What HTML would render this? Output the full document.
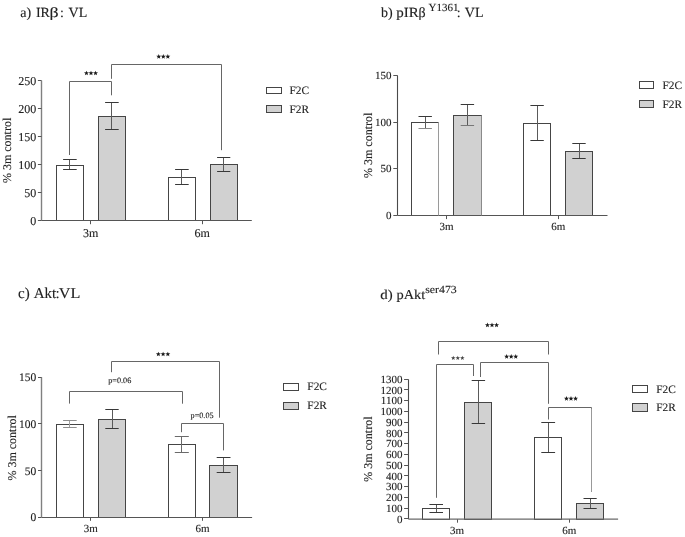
<!DOCTYPE html>
<html><head><meta charset="utf-8"><style>
html,body{margin:0;padding:0;background:#fff;width:685px;height:537px;overflow:hidden}
svg{display:block;will-change:transform} text{text-rendering:geometricPrecision;font-family:"Liberation Serif",serif}
</style></head><body>
<svg width="685" height="537" viewBox="0 0 685 537">
<rect width="685" height="537" fill="#fff"/>
<text x="20.31" y="16.8" font-size="14" text-anchor="start" fill="#222" stroke="#222" stroke-width="0.12" >a)</text>
<text x="35.89" y="16.8" font-size="14" text-anchor="start" fill="#222" stroke="#222" stroke-width="0.12" >IR</text>
<text x="0" y="0" font-size="14" text-anchor="start" fill="#222" stroke="#222" stroke-width="0.12" transform="translate(49.55,16.8) scale(1.28,1)">β</text>
<text x="59.89" y="16.8" font-size="14" text-anchor="start" fill="#222" stroke="#222" stroke-width="0.12" >:</text>
<text x="68.54" y="16.8" font-size="14" text-anchor="start" fill="#222" stroke="#222" stroke-width="0.12" >VL</text>
<line x1="41.5" y1="80.5" x2="41.5" y2="220.6" stroke="#808080" stroke-width="1.4"/>
<line x1="37.9" y1="220.5" x2="41.5" y2="220.5" stroke="#555" stroke-width="1.0"/>
<text x="36.2" y="224.79999999999998" font-size="12" text-anchor="end" fill="#222" stroke="#222" stroke-width="0.12" >0</text>
<line x1="37.9" y1="192.5" x2="41.5" y2="192.5" stroke="#555" stroke-width="1.0"/>
<text x="36.2" y="196.79999999999998" font-size="12" text-anchor="end" fill="#222" stroke="#222" stroke-width="0.12" >50</text>
<line x1="37.9" y1="164.5" x2="41.5" y2="164.5" stroke="#555" stroke-width="1.0"/>
<text x="36.2" y="168.79999999999998" font-size="12" text-anchor="end" fill="#222" stroke="#222" stroke-width="0.12" >100</text>
<line x1="37.9" y1="136.5" x2="41.5" y2="136.5" stroke="#555" stroke-width="1.0"/>
<text x="36.2" y="140.79999999999998" font-size="12" text-anchor="end" fill="#222" stroke="#222" stroke-width="0.12" >150</text>
<line x1="37.9" y1="108.5" x2="41.5" y2="108.5" stroke="#555" stroke-width="1.0"/>
<text x="36.2" y="112.8" font-size="12" text-anchor="end" fill="#222" stroke="#222" stroke-width="0.12" >200</text>
<line x1="37.9" y1="80.5" x2="41.5" y2="80.5" stroke="#555" stroke-width="1.0"/>
<text x="36.2" y="84.8" font-size="12" text-anchor="end" fill="#222" stroke="#222" stroke-width="0.12" >250</text>
<line x1="90.5" y1="220.6" x2="90.5" y2="224.2" stroke="#555" stroke-width="1.0"/>
<text x="90.7" y="236.5" font-size="12" text-anchor="middle" fill="#222" stroke="#222" stroke-width="0.12" >3m</text>
<line x1="202.5" y1="220.6" x2="202.5" y2="224.2" stroke="#555" stroke-width="1.0"/>
<text x="202.2" y="236.5" font-size="12" text-anchor="middle" fill="#222" stroke="#222" stroke-width="0.12" >6m</text>
<rect x="56.5" y="165.5" width="27.0" height="55.0" fill="#fff" stroke="#454545" stroke-width="1.0"/>
<rect x="98.5" y="116.5" width="27.0" height="104.0" fill="#d1d1d1" stroke="#454545" stroke-width="1.0"/>
<rect x="168.5" y="177.5" width="27.0" height="43.0" fill="#fff" stroke="#454545" stroke-width="1.0"/>
<rect x="210.5" y="164.5" width="27.0" height="56.0" fill="#d1d1d1" stroke="#454545" stroke-width="1.0"/>
<line x1="69.5" y1="159.5" x2="69.5" y2="169.4" stroke="#5a5a5a" stroke-width="1.0"/>
<line x1="63.10000000000001" y1="159.5" x2="76.7" y2="159.5" stroke="#383838" stroke-width="1.0"/>
<line x1="63.10000000000001" y1="169.5" x2="76.7" y2="169.5" stroke="#383838" stroke-width="1.0"/>
<line x1="111.5" y1="102.1" x2="111.5" y2="129.6" stroke="#5a5a5a" stroke-width="1.0"/>
<line x1="105.10000000000001" y1="102.5" x2="118.7" y2="102.5" stroke="#383838" stroke-width="1.0"/>
<line x1="105.10000000000001" y1="129.5" x2="118.7" y2="129.5" stroke="#383838" stroke-width="1.0"/>
<line x1="181.5" y1="169.5" x2="181.5" y2="184.3" stroke="#5a5a5a" stroke-width="1.0"/>
<line x1="175.1" y1="169.5" x2="188.70000000000002" y2="169.5" stroke="#383838" stroke-width="1.0"/>
<line x1="175.1" y1="184.5" x2="188.70000000000002" y2="184.5" stroke="#383838" stroke-width="1.0"/>
<line x1="223.5" y1="157.4" x2="223.5" y2="171.2" stroke="#5a5a5a" stroke-width="1.0"/>
<line x1="217.1" y1="157.5" x2="230.29999999999998" y2="157.5" stroke="#383838" stroke-width="1.0"/>
<line x1="217.1" y1="171.5" x2="230.29999999999998" y2="171.5" stroke="#383838" stroke-width="1.0"/>
<line x1="41.5" y1="220.5" x2="251.8" y2="220.5" stroke="#555" stroke-width="1.0"/>
<text x="0" y="0" font-size="12" text-anchor="middle" fill="#222" stroke="#222" stroke-width="0.12" transform="translate(11.4,150.4) rotate(-90)">% 3m control</text>
<rect x="266.5" y="87.5" width="15.0" height="6.0" fill="#fff" stroke="#454545" stroke-width="1.0"/>
<rect x="266.5" y="105.5" width="15.0" height="7.0" fill="#d1d1d1" stroke="#454545" stroke-width="1.0"/>
<text x="289.5" y="94.0" font-size="11.4" text-anchor="start" fill="#222" stroke="#222" stroke-width="0.12" >F2C</text>
<text x="289.5" y="112.8" font-size="11.4" text-anchor="start" fill="#222" stroke="#222" stroke-width="0.12" >F2R</text>
<polyline points="69.5,155 69.5,81.5 111.5,81.5 111.5,95.3" fill="none" stroke="#666" stroke-width="1.0"/>
<polyline points="111.5,78.8 111.5,64.5 221.5,64.5 221.5,150.2" fill="none" stroke="#666" stroke-width="1.0"/>
<polygon points="86.45,70.65 87.10,72.36 88.92,72.45 87.50,73.59 87.98,75.35 86.45,74.35 84.92,75.35 85.40,73.59 83.98,72.45 85.80,72.36" fill="#1a1a1a"/>
<polygon points="91.00,70.65 91.65,72.36 93.47,72.45 92.05,73.59 92.53,75.35 91.00,74.35 89.47,75.35 89.95,73.59 88.53,72.45 90.35,72.36" fill="#1a1a1a"/>
<polygon points="95.55,70.65 96.20,72.36 98.02,72.45 96.60,73.59 97.08,75.35 95.55,74.35 94.02,75.35 94.50,73.59 93.08,72.45 94.90,72.36" fill="#1a1a1a"/>
<polygon points="158.75,53.95 159.40,55.66 161.22,55.75 159.80,56.89 160.28,58.65 158.75,57.65 157.22,58.65 157.70,56.89 156.28,55.75 158.10,55.66" fill="#1a1a1a"/>
<polygon points="163.30,53.95 163.95,55.66 165.77,55.75 164.35,56.89 164.83,58.65 163.30,57.65 161.77,58.65 162.25,56.89 160.83,55.75 162.65,55.66" fill="#1a1a1a"/>
<polygon points="167.85,53.95 168.50,55.66 170.32,55.75 168.90,56.89 169.38,58.65 167.85,57.65 166.32,58.65 166.80,56.89 165.38,55.75 167.20,55.66" fill="#1a1a1a"/>
<text x="381.0" y="17.3" font-size="14" text-anchor="start" fill="#222" stroke="#222" stroke-width="0.12" >b)</text>
<text x="0" y="0" font-size="14" text-anchor="start" fill="#222" stroke="#222" stroke-width="0.12" transform="translate(396.26,17.3) scale(1.07,1)">pIR</text>
<text x="418.5" y="17.3" font-size="14" text-anchor="start" fill="#222" stroke="#222" stroke-width="0.12" >β</text>
<text x="428.58" y="10.700000000000001" font-size="11" text-anchor="start" fill="#222" stroke="#222" stroke-width="0.12" >Y1361</text>
<text x="456.69" y="17.3" font-size="14" text-anchor="start" fill="#222" stroke="#222" stroke-width="0.12" >:</text>
<text x="464.84" y="17.3" font-size="14" text-anchor="start" fill="#222" stroke="#222" stroke-width="0.12" >VL</text>
<line x1="397.5" y1="75.4" x2="397.5" y2="215.5" stroke="#4a4a4a" stroke-width="1.1"/>
<line x1="393.3" y1="215.5" x2="397.6" y2="215.5" stroke="#555" stroke-width="1.0"/>
<text x="391.6" y="219.0" font-size="11" text-anchor="end" fill="#222" stroke="#222" stroke-width="0.12" >0</text>
<line x1="393.3" y1="168.5" x2="397.6" y2="168.5" stroke="#555" stroke-width="1.0"/>
<text x="391.6" y="172.3" font-size="11" text-anchor="end" fill="#222" stroke="#222" stroke-width="0.12" >50</text>
<line x1="393.3" y1="122.5" x2="397.6" y2="122.5" stroke="#555" stroke-width="1.0"/>
<text x="391.6" y="125.6" font-size="11" text-anchor="end" fill="#222" stroke="#222" stroke-width="0.12" >100</text>
<line x1="393.3" y1="75.5" x2="397.6" y2="75.5" stroke="#555" stroke-width="1.0"/>
<text x="391.6" y="78.89999999999998" font-size="11" text-anchor="end" fill="#222" stroke="#222" stroke-width="0.12" >150</text>
<line x1="446.5" y1="215.5" x2="446.5" y2="219.1" stroke="#555" stroke-width="1.0"/>
<text x="446.5" y="230.1" font-size="11" text-anchor="middle" fill="#222" stroke="#222" stroke-width="0.12" >3m</text>
<line x1="558.5" y1="215.5" x2="558.5" y2="219.1" stroke="#555" stroke-width="1.0"/>
<text x="558.2" y="230.1" font-size="11" text-anchor="middle" fill="#222" stroke="#222" stroke-width="0.12" >6m</text>
<rect x="411.5" y="122.5" width="27.0" height="93.0" fill="#fff" stroke="#454545" stroke-width="1.0"/>
<rect x="453.5" y="115.5" width="28.0" height="100.0" fill="#d1d1d1" stroke="#454545" stroke-width="1.0"/>
<rect x="523.5" y="123.5" width="27.0" height="92.0" fill="#fff" stroke="#454545" stroke-width="1.0"/>
<rect x="565.5" y="151.5" width="27.0" height="64.0" fill="#d1d1d1" stroke="#454545" stroke-width="1.0"/>
<line x1="425.5" y1="116.4" x2="425.5" y2="128.2" stroke="#5a5a5a" stroke-width="1.0"/>
<line x1="418.5" y1="116.5" x2="431.9" y2="116.5" stroke="#383838" stroke-width="1.0"/>
<line x1="418.5" y1="128.5" x2="431.9" y2="128.5" stroke="#8a8a8a" stroke-width="1.0"/>
<line x1="467.5" y1="104.6" x2="467.5" y2="125.1" stroke="#5a5a5a" stroke-width="1.0"/>
<line x1="460.7" y1="104.5" x2="474.09999999999997" y2="104.5" stroke="#383838" stroke-width="1.0"/>
<line x1="460.7" y1="125.5" x2="474.09999999999997" y2="125.5" stroke="#777" stroke-width="1.0"/>
<line x1="537.5" y1="105.6" x2="537.5" y2="140.5" stroke="#5a5a5a" stroke-width="1.0"/>
<line x1="530.4" y1="105.5" x2="543.8000000000001" y2="105.5" stroke="#383838" stroke-width="1.0"/>
<line x1="530.4" y1="140.5" x2="543.8000000000001" y2="140.5" stroke="#383838" stroke-width="1.0"/>
<line x1="579.5" y1="143.2" x2="579.5" y2="158.3" stroke="#5a5a5a" stroke-width="1.0"/>
<line x1="572.3" y1="143.5" x2="585.7" y2="143.5" stroke="#383838" stroke-width="1.0"/>
<line x1="572.3" y1="158.5" x2="585.7" y2="158.5" stroke="#383838" stroke-width="1.0"/>
<line x1="397.6" y1="215.5" x2="607.5" y2="215.5" stroke="#555" stroke-width="1.0"/>
<text x="0" y="0" font-size="12" text-anchor="middle" fill="#222" stroke="#222" stroke-width="0.12" transform="translate(371.5,145.3) rotate(-90)">% 3m control</text>
<rect x="639.5" y="81.5" width="14.0" height="7.0" fill="#fff" stroke="#454545" stroke-width="1.0"/>
<rect x="639.5" y="100.5" width="14.0" height="7.0" fill="#d1d1d1" stroke="#454545" stroke-width="1.0"/>
<text x="662.5" y="88.8" font-size="11.4" text-anchor="start" fill="#222" stroke="#222" stroke-width="0.12" >F2C</text>
<text x="662.5" y="107.7" font-size="11.4" text-anchor="start" fill="#222" stroke="#222" stroke-width="0.12" >F2R</text>
<line x1="438.5" y1="122.2" x2="438.5" y2="215.5" stroke="#9a9a9a" stroke-width="1.0"/>
<line x1="481.5" y1="115.4" x2="481.5" y2="215.5" stroke="#8a8a8a" stroke-width="1.0"/>
<text x="18.03" y="298.3" font-size="15" text-anchor="start" fill="#222" stroke="#222" stroke-width="0.12" >c)</text>
<text x="33.65" y="298.3" font-size="15" text-anchor="start" fill="#222" stroke="#222" stroke-width="0.12" >Akt</text>
<text x="55.51" y="298.3" font-size="15" text-anchor="start" fill="#222" stroke="#222" stroke-width="0.12" >:</text>
<text x="0" y="0" font-size="15" text-anchor="start" fill="#222" stroke="#222" stroke-width="0.12" transform="translate(58.72,298.3) scale(1.08,1)">VL</text>
<line x1="41.5" y1="377.2" x2="41.5" y2="517.2" stroke="#808080" stroke-width="1.4"/>
<line x1="38.0" y1="517.5" x2="41.6" y2="517.5" stroke="#555" stroke-width="1.0"/>
<text x="36.3" y="521.2" font-size="11.5" text-anchor="end" fill="#222" stroke="#222" stroke-width="0.12" >0</text>
<line x1="38.0" y1="470.5" x2="41.6" y2="470.5" stroke="#555" stroke-width="1.0"/>
<text x="36.3" y="474.53000000000003" font-size="11.5" text-anchor="end" fill="#222" stroke="#222" stroke-width="0.12" >50</text>
<line x1="38.0" y1="423.5" x2="41.6" y2="423.5" stroke="#555" stroke-width="1.0"/>
<text x="36.3" y="427.86" font-size="11.5" text-anchor="end" fill="#222" stroke="#222" stroke-width="0.12" >100</text>
<line x1="38.0" y1="377.5" x2="41.6" y2="377.5" stroke="#555" stroke-width="1.0"/>
<text x="36.3" y="381.19000000000005" font-size="11.5" text-anchor="end" fill="#222" stroke="#222" stroke-width="0.12" >150</text>
<line x1="90.5" y1="517.2" x2="90.5" y2="520.8000000000001" stroke="#555" stroke-width="1.0"/>
<text x="90.7" y="531.5" font-size="11" text-anchor="middle" fill="#222" stroke="#222" stroke-width="0.12" >3m</text>
<line x1="202.5" y1="517.2" x2="202.5" y2="520.8000000000001" stroke="#555" stroke-width="1.0"/>
<text x="202.6" y="531.5" font-size="11" text-anchor="middle" fill="#222" stroke="#222" stroke-width="0.12" >6m</text>
<rect x="56.5" y="424.5" width="27.0" height="93.0" fill="#fff" stroke="#454545" stroke-width="1.0"/>
<rect x="98.5" y="419.5" width="27.0" height="98.0" fill="#d1d1d1" stroke="#454545" stroke-width="1.0"/>
<rect x="168.5" y="444.5" width="27.0" height="73.0" fill="#fff" stroke="#454545" stroke-width="1.0"/>
<rect x="209.5" y="465.5" width="28.0" height="52.0" fill="#d1d1d1" stroke="#454545" stroke-width="1.0"/>
<line x1="69.5" y1="420.6" x2="69.5" y2="427.2" stroke="#a0a0a0" stroke-width="1.0"/>
<line x1="63.10000000000001" y1="420.5" x2="76.7" y2="420.5" stroke="#909090" stroke-width="1.0"/>
<line x1="63.10000000000001" y1="427.5" x2="76.7" y2="427.5" stroke="#909090" stroke-width="1.0"/>
<line x1="112.5" y1="409.8" x2="112.5" y2="428.2" stroke="#5a5a5a" stroke-width="1.0"/>
<line x1="105.3" y1="409.5" x2="118.7" y2="409.5" stroke="#383838" stroke-width="1.0"/>
<line x1="105.3" y1="428.5" x2="118.7" y2="428.5" stroke="#383838" stroke-width="1.0"/>
<line x1="181.5" y1="436.4" x2="181.5" y2="452.2" stroke="#6a6a6a" stroke-width="1.0"/>
<line x1="174.8" y1="436.5" x2="188.8" y2="436.5" stroke="#6a6a6a" stroke-width="1.0"/>
<line x1="174.8" y1="452.5" x2="188.8" y2="452.5" stroke="#6a6a6a" stroke-width="1.0"/>
<line x1="223.5" y1="457.4" x2="223.5" y2="472.3" stroke="#5a5a5a" stroke-width="1.0"/>
<line x1="216.7" y1="457.5" x2="230.5" y2="457.5" stroke="#383838" stroke-width="1.0"/>
<line x1="216.7" y1="472.5" x2="230.5" y2="472.5" stroke="#383838" stroke-width="1.0"/>
<line x1="41.6" y1="517.5" x2="252.1" y2="517.5" stroke="#555" stroke-width="1.0"/>
<text x="0" y="0" font-size="12" text-anchor="middle" fill="#222" stroke="#222" stroke-width="0.12" transform="translate(15.8,447.9) rotate(-90)">% 3m control</text>
<rect x="283.5" y="383.5" width="15.0" height="7.0" fill="#fff" stroke="#454545" stroke-width="1.0"/>
<rect x="283.5" y="402.5" width="15.0" height="7.0" fill="#d1d1d1" stroke="#454545" stroke-width="1.0"/>
<text x="307.3" y="390.4" font-size="11.4" text-anchor="start" fill="#222" stroke="#222" stroke-width="0.12" >F2C</text>
<text x="307.3" y="409.3" font-size="11.4" text-anchor="start" fill="#222" stroke="#222" stroke-width="0.12" >F2R</text>
<polyline points="69.5,403.6 69.5,391.5 182.5,391.5 182.5,403.7" fill="none" stroke="#666" stroke-width="1.0"/>
<polyline points="111.5,372.2 111.5,361.5 219.5,361.5 219.5,417.7" fill="none" stroke="#666" stroke-width="1.0"/>
<polyline points="181.5,432.2 181.5,423.5 223.5,423.5 223.5,450.4" fill="none" stroke="#666" stroke-width="1.0"/>
<text x="119.8" y="383.1" font-size="8.2" text-anchor="middle" fill="#222" stroke="#222" stroke-width="0.12" >p=0.06</text>
<text x="202.1" y="417.9" font-size="8.2" text-anchor="middle" fill="#222" stroke="#222" stroke-width="0.12" >p=0.05</text>
<polygon points="158.35,351.65 159.00,353.36 160.82,353.45 159.40,354.59 159.88,356.35 158.35,355.35 156.82,356.35 157.30,354.59 155.88,353.45 157.70,353.36" fill="#1a1a1a"/>
<polygon points="163.10,351.65 163.75,353.36 165.57,353.45 164.15,354.59 164.63,356.35 163.10,355.35 161.57,356.35 162.05,354.59 160.63,353.45 162.45,353.36" fill="#1a1a1a"/>
<polygon points="167.85,351.65 168.50,353.36 170.32,353.45 168.90,354.59 169.38,356.35 167.85,355.35 166.32,356.35 166.80,354.59 165.38,353.45 167.20,353.36" fill="#1a1a1a"/>
<text x="0" y="0" font-size="13.5" text-anchor="start" fill="#222" stroke="#222" stroke-width="0.12" transform="translate(380.36,299.2) scale(1.1,1)">d)</text>
<text x="0" y="0" font-size="13.5" text-anchor="start" fill="#222" stroke="#222" stroke-width="0.12" transform="translate(396.47,299.2) scale(1.07,1)">pAkt</text>
<text x="0" y="0" font-size="11" text-anchor="start" fill="#222" stroke="#222" stroke-width="0.12" transform="translate(425.21,292.59999999999997) scale(1.077,1)">ser473</text>
<line x1="408.5" y1="379.3" x2="408.5" y2="519.1" stroke="#4a4a4a" stroke-width="1.1"/>
<line x1="404.09999999999997" y1="518.5" x2="408.4" y2="518.5" stroke="#555" stroke-width="1.0"/>
<text x="402.4" y="522.5" font-size="11" text-anchor="end" fill="#222" stroke="#222" stroke-width="0.12" >0</text>
<line x1="404.09999999999997" y1="508.5" x2="408.4" y2="508.5" stroke="#555" stroke-width="1.0"/>
<text x="402.4" y="511.754" font-size="11" text-anchor="end" fill="#222" stroke="#222" stroke-width="0.12" >100</text>
<line x1="404.09999999999997" y1="497.5" x2="408.4" y2="497.5" stroke="#555" stroke-width="1.0"/>
<text x="402.4" y="501.008" font-size="11" text-anchor="end" fill="#222" stroke="#222" stroke-width="0.12" >200</text>
<line x1="404.09999999999997" y1="486.5" x2="408.4" y2="486.5" stroke="#555" stroke-width="1.0"/>
<text x="402.4" y="490.262" font-size="11" text-anchor="end" fill="#222" stroke="#222" stroke-width="0.12" >300</text>
<line x1="404.09999999999997" y1="475.5" x2="408.4" y2="475.5" stroke="#555" stroke-width="1.0"/>
<text x="402.4" y="479.516" font-size="11" text-anchor="end" fill="#222" stroke="#222" stroke-width="0.12" >400</text>
<line x1="404.09999999999997" y1="465.5" x2="408.4" y2="465.5" stroke="#555" stroke-width="1.0"/>
<text x="402.4" y="468.77" font-size="11" text-anchor="end" fill="#222" stroke="#222" stroke-width="0.12" >500</text>
<line x1="404.09999999999997" y1="454.5" x2="408.4" y2="454.5" stroke="#555" stroke-width="1.0"/>
<text x="402.4" y="458.024" font-size="11" text-anchor="end" fill="#222" stroke="#222" stroke-width="0.12" >600</text>
<line x1="404.09999999999997" y1="443.5" x2="408.4" y2="443.5" stroke="#555" stroke-width="1.0"/>
<text x="402.4" y="447.278" font-size="11" text-anchor="end" fill="#222" stroke="#222" stroke-width="0.12" >700</text>
<line x1="404.09999999999997" y1="432.5" x2="408.4" y2="432.5" stroke="#555" stroke-width="1.0"/>
<text x="402.4" y="436.532" font-size="11" text-anchor="end" fill="#222" stroke="#222" stroke-width="0.12" >800</text>
<line x1="404.09999999999997" y1="422.5" x2="408.4" y2="422.5" stroke="#555" stroke-width="1.0"/>
<text x="402.4" y="425.786" font-size="11" text-anchor="end" fill="#222" stroke="#222" stroke-width="0.12" >900</text>
<line x1="404.09999999999997" y1="411.5" x2="408.4" y2="411.5" stroke="#555" stroke-width="1.0"/>
<text x="402.4" y="415.03999999999996" font-size="11" text-anchor="end" fill="#222" stroke="#222" stroke-width="0.12" >1000</text>
<line x1="404.09999999999997" y1="400.5" x2="408.4" y2="400.5" stroke="#555" stroke-width="1.0"/>
<text x="402.4" y="404.294" font-size="11" text-anchor="end" fill="#222" stroke="#222" stroke-width="0.12" >1100</text>
<line x1="404.09999999999997" y1="389.5" x2="408.4" y2="389.5" stroke="#555" stroke-width="1.0"/>
<text x="402.4" y="393.548" font-size="11" text-anchor="end" fill="#222" stroke="#222" stroke-width="0.12" >1200</text>
<line x1="404.09999999999997" y1="379.5" x2="408.4" y2="379.5" stroke="#555" stroke-width="1.0"/>
<text x="402.4" y="382.802" font-size="11" text-anchor="end" fill="#222" stroke="#222" stroke-width="0.12" >1300</text>
<line x1="457.5" y1="519.1" x2="457.5" y2="522.7" stroke="#555" stroke-width="1.0"/>
<text x="457" y="534" font-size="11" text-anchor="middle" fill="#222" stroke="#222" stroke-width="0.12" >3m</text>
<line x1="569.5" y1="519.1" x2="569.5" y2="522.7" stroke="#555" stroke-width="1.0"/>
<text x="569.3" y="534" font-size="11" text-anchor="middle" fill="#222" stroke="#222" stroke-width="0.12" >6m</text>
<rect x="422.5" y="508.5" width="27.0" height="11.0" fill="#fff" stroke="#454545" stroke-width="1.0"/>
<rect x="464.5" y="402.5" width="27.0" height="117.0" fill="#d1d1d1" stroke="#454545" stroke-width="1.0"/>
<rect x="534.5" y="437.5" width="27.0" height="82.0" fill="#fff" stroke="#454545" stroke-width="1.0"/>
<rect x="576.5" y="503.5" width="27.0" height="16.0" fill="#d1d1d1" stroke="#454545" stroke-width="1.0"/>
<line x1="436.5" y1="504.1" x2="436.5" y2="512.6" stroke="#5a5a5a" stroke-width="1.0"/>
<line x1="429.4" y1="504.5" x2="443.0" y2="504.5" stroke="#383838" stroke-width="1.0"/>
<line x1="429.4" y1="512.5" x2="443.0" y2="512.5" stroke="#383838" stroke-width="1.0"/>
<line x1="478.5" y1="380.4" x2="478.5" y2="423.1" stroke="#5a5a5a" stroke-width="1.0"/>
<line x1="471.7" y1="380.5" x2="485.09999999999997" y2="380.5" stroke="#383838" stroke-width="1.0"/>
<line x1="471.7" y1="423.5" x2="485.09999999999997" y2="423.5" stroke="#383838" stroke-width="1.0"/>
<line x1="548.5" y1="422.4" x2="548.5" y2="452.5" stroke="#5a5a5a" stroke-width="1.0"/>
<line x1="541.3000000000001" y1="422.5" x2="555.1" y2="422.5" stroke="#383838" stroke-width="1.0"/>
<line x1="541.3000000000001" y1="452.5" x2="555.1" y2="452.5" stroke="#383838" stroke-width="1.0"/>
<line x1="590.5" y1="498.6" x2="590.5" y2="508.4" stroke="#5a5a5a" stroke-width="1.0"/>
<line x1="583.5" y1="498.5" x2="596.7" y2="498.5" stroke="#383838" stroke-width="1.0"/>
<line x1="583.5" y1="508.5" x2="596.7" y2="508.5" stroke="#383838" stroke-width="1.0"/>
<line x1="408.4" y1="519.1" x2="618.1" y2="519.1" stroke="#6a6a6a" stroke-width="1.25"/>
<text x="0" y="0" font-size="12" text-anchor="middle" fill="#222" stroke="#222" stroke-width="0.12" transform="translate(371.8,449.2) rotate(-90)">% 3m control</text>
<rect x="632.5" y="385.5" width="15.0" height="7.0" fill="#fff" stroke="#454545" stroke-width="1.0"/>
<rect x="632.5" y="403.5" width="15.0" height="8.0" fill="#d1d1d1" stroke="#454545" stroke-width="1.0"/>
<text x="656.2" y="392.6" font-size="11.4" text-anchor="start" fill="#222" stroke="#222" stroke-width="0.12" >F2C</text>
<text x="656.2" y="411" font-size="11.4" text-anchor="start" fill="#222" stroke="#222" stroke-width="0.12" >F2R</text>
<polyline points="438.5,354.5 438.5,341.5 548.5,341.5 548.5,354.5" fill="none" stroke="#666" stroke-width="1.0"/>
<polyline points="436.5,497.8 436.5,364.5 473.5,364.5 473.5,376" fill="none" stroke="#666" stroke-width="1.0"/>
<polyline points="480.5,377 480.5,362.5 548.5,362.5 548.5,403.8" fill="none" stroke="#666" stroke-width="1.0"/>
<polyline points="548.5,419.5 548.5,407.5 591.5,407.5 591.5,491.9" fill="none" stroke="#666" stroke-width="1.0"/>
<line x1="591.5" y1="408.5" x2="591.5" y2="491.9" stroke="#999" stroke-width="1.0"/>
<polygon points="487.45,322.45 488.10,324.16 489.92,324.25 488.50,325.39 488.98,327.15 487.45,326.15 485.92,327.15 486.40,325.39 484.98,324.25 486.80,324.16" fill="#1a1a1a"/>
<polygon points="492.00,322.45 492.65,324.16 494.47,324.25 493.05,325.39 493.53,327.15 492.00,326.15 490.47,327.15 490.95,325.39 489.53,324.25 491.35,324.16" fill="#1a1a1a"/>
<polygon points="496.55,322.45 497.20,324.16 499.02,324.25 497.60,325.39 498.08,327.15 496.55,326.15 495.02,327.15 495.50,325.39 494.08,324.25 495.90,324.16" fill="#1a1a1a"/>
<polygon points="453.25,355.65 453.84,357.24 455.53,357.31 454.20,358.36 454.66,359.99 453.25,359.05 451.84,359.99 452.30,358.36 450.97,357.31 452.66,357.24" fill="#444"/>
<polygon points="457.80,355.65 458.39,357.24 460.08,357.31 458.75,358.36 459.21,359.99 457.80,359.05 456.39,359.99 456.85,358.36 455.52,357.31 457.21,357.24" fill="#444"/>
<polygon points="462.35,355.65 462.94,357.24 464.63,357.31 463.30,358.36 463.76,359.99 462.35,359.05 460.94,359.99 461.40,358.36 460.07,357.31 461.76,357.24" fill="#444"/>
<polygon points="506.65,354.05 507.30,355.76 509.12,355.85 507.70,356.99 508.18,358.75 506.65,357.75 505.12,358.75 505.60,356.99 504.18,355.85 506.00,355.76" fill="#1a1a1a"/>
<polygon points="511.20,354.05 511.85,355.76 513.67,355.85 512.25,356.99 512.73,358.75 511.20,357.75 509.67,358.75 510.15,356.99 508.73,355.85 510.55,355.76" fill="#1a1a1a"/>
<polygon points="515.75,354.05 516.40,355.76 518.22,355.85 516.80,356.99 517.28,358.75 515.75,357.75 514.22,358.75 514.70,356.99 513.28,355.85 515.10,355.76" fill="#1a1a1a"/>
<polygon points="566.45,396.05 567.10,397.76 568.92,397.85 567.50,398.99 567.98,400.75 566.45,399.75 564.92,400.75 565.40,398.99 563.98,397.85 565.80,397.76" fill="#1a1a1a"/>
<polygon points="571.00,396.05 571.65,397.76 573.47,397.85 572.05,398.99 572.53,400.75 571.00,399.75 569.47,400.75 569.95,398.99 568.53,397.85 570.35,397.76" fill="#1a1a1a"/>
<polygon points="575.55,396.05 576.20,397.76 578.02,397.85 576.60,398.99 577.08,400.75 575.55,399.75 574.02,400.75 574.50,398.99 573.08,397.85 574.90,397.76" fill="#1a1a1a"/>
</svg>
</body></html>
